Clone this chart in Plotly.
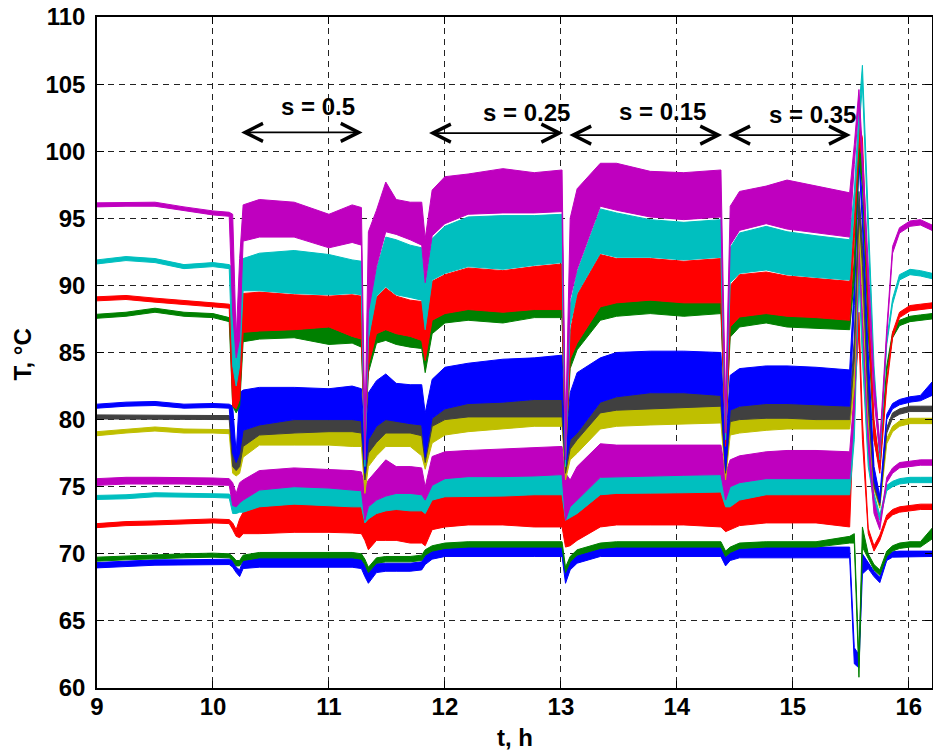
import plotly.graph_objects as go

# ---------------- data ----------------
T = [9.00, 9.25, 9.50, 9.75, 10.00, 10.14, 10.17, 10.20, 10.23, 10.26,
     10.40, 10.70, 11.00, 11.20, 11.28, 11.31, 11.34, 11.41, 11.49, 11.58,
     11.70, 11.80, 11.83, 11.89, 12.00, 12.20, 12.50, 12.77, 13.01, 13.04,
     13.08, 13.14, 13.34, 13.48, 13.77, 14.06, 14.38, 14.42, 14.46, 14.54,
     14.77, 14.95, 15.20, 15.49, 15.53, 15.57, 15.60, 15.65, 15.70, 15.75,
     15.81, 15.86, 15.92, 16.01, 16.10, 16.20]

M96_HI = [96.15, 96.2, 96.2, 95.85, 95.55, 95.45, 95.3, 86.0, 92.0, 96.0,
          96.4, 96.2, 95.3, 96.0, 95.8, 79.0, 94.0, 95.6, 97.7, 96.4,
          96.2, 96.2, 93.5, 97.1, 98.1, 98.3, 98.7, 98.4, 98.6, 79.0,
          95.0, 97.2, 99.1, 99.1, 98.5, 98.4, 98.6, 81.0, 95.9, 97.0,
          97.4, 97.85, 97.4, 96.9, 100.5, 104.6, 100.0, 92.0, 83.0, 78.3,
          86.8, 92.9, 94.3, 94.8, 94.9, 94.5]
M96_LO = [95.85, 95.9, 95.9, 95.55, 95.25, 95.15, 88.0, 84.6, 86.0, 93.3,
          93.6, 93.6, 92.8, 93.2, 93.0, 77.0, 88.0, 91.4, 94.0, 93.8,
          93.4, 93.0, 90.2, 93.7, 94.6, 95.3, 95.4, 95.4, 95.5, 77.0,
          89.0, 91.2, 95.9, 95.6, 95.1, 94.9, 95.1, 79.0, 93.0, 94.1,
          94.6, 94.2, 93.9, 93.6, 99.0, 103.5, 98.5, 90.5, 81.5, 77.5,
          86.2, 92.4, 93.9, 94.4, 94.5, 94.1]

C92_HI = [91.9, 92.15, 92.0, 91.55, 91.7, 91.55, 91.3, 84.0, 90.0, 92.0,
          92.4, 92.6, 92.3, 91.9, 91.8, 78.0, 88.5, 91.2, 93.6, 93.4,
          93.0, 92.8, 90.0, 93.5, 94.4, 95.1, 95.2, 95.2, 95.3, 78.0,
          88.5, 91.0, 95.7, 95.4, 94.9, 94.7, 94.9, 80.0, 92.8, 93.9,
          94.4, 94.0, 93.7, 93.4, 97.0, 103.0, 106.4, 95.0, 84.0, 77.6,
          86.0, 89.0, 90.8, 91.2, 91.1, 90.9]
C92_LO = [91.6, 91.85, 91.7, 91.25, 91.4, 91.25, 84.0, 82.5, 84.0, 89.6,
          89.6, 89.4, 89.3, 89.4, 89.3, 76.5, 86.0, 89.2, 89.9, 89.3,
          89.1, 88.9, 86.7, 90.4, 90.9, 91.4, 91.2, 91.5, 91.7, 76.5,
          87.0, 89.4, 92.4, 92.1, 92.1, 91.9, 92.1, 78.5, 90.2, 90.9,
          91.15, 90.8, 90.6, 90.4, 95.5, 101.5, 105.0, 93.5, 82.5, 77.0,
          85.6, 88.6, 90.4, 90.8, 90.7, 90.5]

R89_HI = [89.15, 89.25, 89.05, 88.85, 88.7, 88.6, 88.4, 82.0, 88.0, 89.4,
          89.5, 89.3, 89.2, 89.3, 89.2, 79.0, 86.0, 89.1, 89.8, 89.2,
          88.9, 88.8, 86.7, 90.3, 90.8, 91.3, 91.1, 91.4, 91.6, 78.5,
          86.5, 89.3, 92.3, 92.0, 92.0, 91.8, 92.0, 79.5, 90.0, 90.8,
          91.0, 90.7, 90.5, 90.3, 95.0, 102.0, 101.0, 89.5, 80.0, 76.6,
          83.0, 86.5, 88.0, 88.5, 88.6, 88.7]
R89_LO = [88.85, 88.95, 88.75, 88.55, 88.4, 88.3, 81.0, 80.8, 81.5, 86.5,
          86.6, 86.7, 86.9, 86.2, 86.0, 77.5, 84.0, 86.4, 86.7, 86.4,
          86.2, 85.9, 84.4, 87.4, 87.9, 88.2, 88.0, 88.2, 88.2, 77.0,
          84.5, 85.7, 88.4, 88.7, 88.9, 88.7, 88.7, 78.0, 86.9, 87.65,
          87.9, 87.7, 87.6, 87.4, 93.5, 100.5, 99.5, 88.0, 78.5, 76.0,
          82.5, 86.1, 87.6, 88.1, 88.2, 88.3]

G88_HI = [87.85, 88.0, 88.3, 88.0, 87.9, 87.6, 87.3, 82.0, 86.5, 86.5,
          86.6, 86.7, 86.9, 86.2, 86.0, 79.5, 84.0, 86.4, 86.7, 86.4,
          86.2, 85.9, 84.4, 87.4, 87.9, 88.2, 88.0, 88.2, 88.2, 79.0,
          84.5, 85.7, 88.4, 88.7, 88.9, 88.7, 88.7, 80.5, 86.9, 87.65,
          87.9, 87.7, 87.6, 87.4, 92.0, 101.0, 99.0, 88.0, 79.5, 76.8,
          84.0, 86.5, 87.4, 87.7, 87.8, 87.9]
G88_LO = [87.55, 87.7, 88.0, 87.7, 87.6, 87.3, 81.0, 80.5, 81.0, 85.8,
          86.0, 86.1, 85.6, 85.7, 85.4, 78.0, 83.5, 85.7, 85.9, 85.6,
          85.4, 85.3, 83.5, 86.4, 87.2, 87.4, 87.2, 87.6, 87.6, 77.5,
          83.8, 85.2, 87.4, 87.7, 87.9, 87.7, 87.9, 79.0, 86.15, 86.9,
          87.2, 86.9, 86.8, 86.7, 90.5, 99.5, 97.5, 86.5, 78.5, 76.3,
          83.6, 86.1, 87.0, 87.3, 87.4, 87.5]

B81_HI = [81.15, 81.3, 81.35, 81.15, 81.2, 81.15, 81.0, 77.5, 82.0, 82.2,
          82.4, 82.4, 82.3, 82.5, 82.3, 78.0, 82.0, 82.9, 83.4, 82.7,
          82.6, 82.6, 80.5, 83.0, 83.9, 84.2, 84.5, 84.6, 84.8, 78.0,
          82.0, 83.5, 84.6, 85.0, 85.1, 85.1, 85.0, 78.0, 83.3, 83.8,
          84.0, 84.0, 83.9, 83.7, 90.0, 100.8, 96.0, 85.0, 76.5, 74.3,
          80.4, 81.2, 81.5, 81.7, 81.8, 82.8]
B81_LO = [80.85, 81.0, 81.05, 80.85, 80.9, 80.85, 77.5, 76.8, 77.5, 79.2,
          79.6, 80.0, 80.0, 80.0, 79.9, 76.0, 78.5, 79.5, 80.0, 79.9,
          79.7, 79.6, 77.2, 80.1, 80.8, 81.2, 81.3, 81.5, 81.5, 76.5,
          78.5, 79.0, 81.3, 81.7, 82.0, 82.0, 81.8, 76.2, 80.7, 81.0,
          81.2, 81.2, 81.1, 81.0, 88.5, 99.3, 94.5, 83.0, 75.5, 73.8,
          80.0, 80.8, 81.1, 81.3, 81.4, 81.8]

K80_HI = [80.35, 80.35, 80.3, 80.3, 80.3, 80.3, 80.0, 77.0, 79.0, 79.2,
          79.6, 80.0, 80.0, 80.0, 79.9, 77.0, 78.5, 79.5, 80.0, 79.9,
          79.7, 79.6, 77.2, 80.1, 80.8, 81.2, 81.3, 81.5, 81.5, 77.5,
          78.5, 79.0, 81.3, 81.7, 82.0, 82.0, 81.8, 77.5, 80.7, 81.0,
          81.2, 81.2, 81.1, 81.0, 86.0, 97.0, 93.0, 83.0, 75.8, 74.0,
          79.4, 80.5, 80.8, 81.0, 81.0, 81.0]
K80_LO = [80.05, 80.05, 80.0, 80.0, 80.0, 80.0, 76.5, 76.2, 76.5, 78.0,
          78.85, 79.0, 79.1, 79.1, 79.0, 75.5, 77.5, 78.3, 79.0, 79.0,
          79.0, 78.8, 76.8, 79.5, 80.0, 80.2, 80.2, 80.2, 80.2, 76.0,
          77.8, 78.5, 80.5, 80.7, 80.8, 80.9, 81.0, 76.0, 79.85, 80.0,
          80.1, 80.1, 80.0, 80.0, 84.5, 95.5, 91.5, 81.0, 75.0, 73.6,
          79.0, 80.1, 80.4, 80.6, 80.6, 80.6]

Y79_HI = [79.1, 79.3, 79.45, 79.3, 79.3, 79.25, 79.0, 76.5, 78.5, 78.0,
          78.85, 79.0, 79.1, 79.1, 79.0, 75.5, 77.5, 78.3, 79.0, 79.0,
          79.0, 78.8, 76.8, 79.5, 80.0, 80.2, 80.2, 80.2, 80.2, 76.0,
          77.8, 78.5, 80.5, 80.7, 80.8, 80.9, 81.0, 76.0, 79.85, 80.0,
          80.1, 80.1, 80.0, 80.0, 84.0, 96.0, 91.0, 82.0, 75.5, 73.9,
          78.6, 79.5, 79.9, 80.1, 80.1, 80.1]
Y79_LO = [78.8, 79.0, 79.15, 79.0, 79.0, 78.95, 76.0, 75.8, 76.0, 77.2,
          78.1, 78.1, 78.1, 78.0, 78.0, 74.5, 76.5, 77.3, 78.0, 78.0,
          78.0, 77.3, 76.3, 78.25, 78.85, 79.1, 79.3, 79.5, 79.5, 75.5,
          77.0, 77.5, 79.3, 79.5, 79.6, 79.7, 79.75, 75.5, 78.85, 79.0,
          79.2, 79.3, 79.3, 79.3, 82.5, 94.5, 89.5, 80.0, 74.8, 73.4,
          78.2, 79.1, 79.5, 79.7, 79.7, 79.7]

M75_HI = [75.6, 75.7, 75.7, 75.7, 75.65, 75.6, 75.3, 74.5, 75.3, 75.5,
          76.2, 76.4, 76.3, 76.2, 76.1, 75.0, 75.5, 76.2, 77.0, 76.5,
          76.5, 76.4, 75.0, 77.25, 77.6, 77.7, 77.8, 77.9, 78.0, 76.0,
          75.5, 76.5, 78.2, 78.1, 78.1, 78.1, 78.1, 76.0, 77.0, 77.3,
          77.6, 77.7, 77.7, 77.6, 82.0, 94.0, 88.0, 80.0, 74.0, 72.2,
          75.7, 76.4, 76.8, 76.9, 77.0, 77.0]
M75_LO = [75.1, 75.2, 75.2, 75.2, 75.15, 75.1, 73.6, 73.5, 73.8, 74.0,
          74.75, 75.0, 74.9, 74.75, 74.7, 72.5, 73.5, 74.0, 74.3, 74.5,
          74.5, 74.4, 74.0, 75.1, 75.6, 75.75, 75.75, 75.8, 75.9, 72.5,
          73.5, 74.0, 75.7, 75.75, 75.8, 75.85, 75.9, 74.0, 75.0, 75.3,
          75.6, 75.6, 75.6, 75.6, 80.5, 92.5, 86.5, 78.0, 73.0, 71.8,
          75.3, 76.0, 76.4, 76.5, 76.6, 76.6]

C74_HI = [74.35, 74.4, 74.55, 74.5, 74.5, 74.45, 74.2, 73.6, 74.0, 74.0,
          74.75, 75.0, 74.9, 74.75, 74.7, 73.0, 73.5, 74.0, 74.3, 74.5,
          74.5, 74.4, 74.0, 75.1, 75.6, 75.75, 75.75, 75.8, 75.9, 74.0,
          73.5, 74.0, 75.7, 75.75, 75.8, 75.85, 75.9, 74.0, 75.0, 75.3,
          75.6, 75.6, 75.6, 75.6, 80.0, 92.0, 86.0, 78.0, 74.5, 72.9,
          75.1, 75.4, 75.6, 75.7, 75.7, 75.7]
C74_LO = [74.05, 74.1, 74.25, 74.2, 74.2, 74.15, 73.0, 73.0, 73.1, 73.1,
          73.5, 73.7, 73.6, 73.5, 73.5, 72.3, 72.6, 73.0, 73.2, 73.3,
          73.2, 73.2, 73.0, 74.0, 74.25, 74.3, 74.3, 74.4, 74.4, 72.5,
          72.7, 73.0, 74.4, 74.5, 74.5, 74.55, 74.6, 73.5, 73.5, 74.0,
          74.4, 74.4, 74.4, 74.4, 78.5, 90.5, 84.5, 76.5, 73.8, 72.5,
          74.7, 75.0, 75.2, 75.3, 75.3, 75.3]

R72_HI = [72.25, 72.4, 72.45, 72.5, 72.6, 72.55, 72.3, 71.8, 72.6, 73.1,
          73.5, 73.7, 73.6, 73.5, 73.5, 72.3, 72.6, 73.0, 73.2, 73.3,
          73.2, 73.2, 73.0, 74.0, 74.25, 74.3, 74.3, 74.4, 74.4, 72.5,
          72.7, 73.0, 74.4, 74.5, 74.5, 74.55, 74.6, 73.5, 73.5, 74.0,
          74.4, 74.4, 74.4, 74.4, 83.0, 88.0, 80.0, 71.9, 70.6, 71.4,
          72.9, 73.3, 73.5, 73.6, 73.7, 73.7]
R72_LO = [71.95, 72.1, 72.15, 72.2, 72.3, 72.25, 71.8, 71.3, 71.2, 71.5,
          71.5, 71.6, 71.6, 71.55, 71.5, 71.0, 70.3, 71.0, 71.0, 71.0,
          70.8, 70.8, 70.6, 71.8, 72.0, 72.15, 72.15, 72.0, 72.0, 70.5,
          70.6, 71.0, 72.0, 72.15, 72.15, 72.15, 72.0, 71.65, 71.8, 72.1,
          72.3, 72.3, 72.3, 72.0, 81.5, 86.5, 78.5, 71.5, 70.2, 71.0,
          72.5, 72.9, 73.1, 73.2, 73.3, 73.3]

G70_HI = [69.75, 69.85, 69.95, 70.0, 70.05, 70.0, 69.8, 69.5, 69.5, 69.9,
          70.1, 70.1, 70.1, 70.1, 70.0, 69.6, 69.0, 69.7, 69.8, 69.8,
          69.8, 69.9, 70.3, 70.6, 70.8, 70.9, 70.9, 70.9, 70.9, 69.0,
          69.8, 70.3, 70.8, 70.9, 70.9, 70.9, 70.9, 70.2, 70.5, 70.8,
          70.9, 70.9, 70.9, 71.3, 71.5, 62.0, 72.0, 70.0, 69.2, 68.8,
          70.2, 70.6, 70.8, 70.9, 70.9, 71.9]
G70_LO = [69.45, 69.55, 69.65, 69.7, 69.75, 69.7, 69.5, 69.1, 69.1, 69.5,
          69.7, 69.7, 69.7, 69.7, 69.6, 69.2, 68.6, 69.3, 69.4, 69.4,
          69.4, 69.5, 69.9, 70.2, 70.4, 70.5, 70.5, 70.5, 70.5, 68.6,
          69.4, 69.9, 70.4, 70.5, 70.5, 70.5, 70.5, 69.8, 70.1, 70.4,
          70.5, 70.5, 70.5, 70.8, 70.8, 60.8, 70.5, 69.6, 68.8, 68.4,
          69.8, 70.2, 70.4, 70.5, 70.5, 71.1]

B69_HI = [69.35, 69.45, 69.55, 69.55, 69.6, 69.6, 69.5, 69.0, 68.8, 69.5,
          69.7, 69.7, 69.7, 69.7, 69.6, 69.2, 68.6, 69.3, 69.3, 69.3,
          69.3, 69.4, 69.9, 70.2, 70.4, 70.5, 70.5, 70.5, 70.5, 68.6,
          69.4, 69.9, 70.4, 70.5, 70.5, 70.5, 70.5, 69.8, 70.1, 70.4,
          70.5, 70.5, 70.5, 70.5, 63.0, 62.5, 70.0, 69.3, 68.7, 68.25,
          69.9, 70.15, 70.2, 70.2, 70.2, 70.2]
B69_LO = [68.95, 69.05, 69.15, 69.15, 69.2, 69.2, 69.0, 68.6, 68.3, 68.9,
          69.0, 69.0, 69.0, 69.0, 68.9, 68.3, 67.8, 68.6, 68.7, 68.7,
          68.7, 68.8, 69.2, 69.6, 69.8, 69.8, 69.8, 69.8, 69.8, 67.8,
          68.8, 69.3, 69.8, 69.8, 69.8, 69.8, 69.8, 69.1, 69.5, 69.7,
          69.7, 69.7, 69.7, 69.7, 61.8, 61.5, 68.5, 68.9, 68.3, 67.85,
          69.5, 69.75, 69.8, 69.8, 69.8, 69.8]

SERIES = [  # (name, upper envelope, lower envelope, colour)
    ("B69", B69_HI, B69_LO, "#0000FF"),
    ("G70", G70_HI, G70_LO, "#008000"),
    ("R72", R72_HI, R72_LO, "#FF0000"),
    ("C74", C74_HI, C74_LO, "#00BFBF"),
    ("M75", M75_HI, M75_LO, "#BF00BF"),
    ("Y79", Y79_HI, Y79_LO, "#BFBF00"),
    ("K80", K80_HI, K80_LO, "#404040"),
    ("B81", B81_HI, B81_LO, "#0000FF"),
    ("G88", G88_HI, G88_LO, "#008000"),
    ("R89", R89_HI, R89_LO, "#FF0000"),
    ("C92", C92_HI, C92_LO, "#00BFBF"),
    ("M96", M96_HI, M96_LO, "#BF00BF"),
]

LABELS = ["s = 0.5", "s = 0.25", "s = 0.15", "s = 0.35"]
LABEL_T = [10.905, 12.70, 13.88, 15.17]
LABEL_Y = [103.3, 102.9, 102.95, 102.7]
ARROW_START = [10.23, 11.85, 13.06, 14.43]
ARROW_END = [11.29, 13.02, 14.39, 15.50]
ARROW_Y = [101.4, 101.35, 101.2, 101.2]

X_TICKS = [9, 10, 11, 12, 13, 14, 15, 16]
Y_TICKS = [60, 65, 70, 75, 80, 85, 90, 95, 100, 105, 110]
X_TITLE = "t, h"
Y_TITLE = "T, °C"

# ---------------- figure ----------------
FONT = "Liberation Sans, Arial, Helvetica, sans-serif"
FS = 24
fig = go.Figure()
for name, hi, lo, col in SERIES:
    fig.add_trace(go.Scatter(
        x=T + T[::-1], y=hi + lo[::-1], mode="lines", fill="toself",
        fillcolor=col, line=dict(color=col, width=1.0), name=name,
        hoverinfo="skip", showlegend=False))

for x0, x1, ya in zip(ARROW_START, ARROW_END, ARROW_Y):
    fig.add_annotation(x=x1, y=ya, ax=x0, ay=ya, xref="x", yref="y",
                       axref="x", ayref="y", text="", showarrow=True,
                       arrowhead=5, startarrowhead=5, arrowside="end+start",
                       arrowsize=2.2, startarrowsize=2.2, arrowwidth=1.6,
                       arrowcolor="black", standoff=0, startstandoff=0)
for txt, xt, yt in zip(LABELS, LABEL_T, LABEL_Y):
    fig.add_annotation(x=xt, y=yt, xref="x", yref="y", text=txt,
                       showarrow=False, xanchor="center", yanchor="middle",
                       font=dict(family=FONT, size=FS, color="black",
                                 weight="bold"))

fig.add_annotation(x=-0.0898, y=0.497, xref="paper", yref="paper",
                   text=Y_TITLE, textangle=-90, showarrow=False,
                   xanchor="center", yanchor="middle",
                   font=dict(family=FONT, size=FS, color="black", weight="bold"))
fig.add_annotation(x=0.5, y=-0.0745, xref="paper", yref="paper",
                   text=X_TITLE, showarrow=False,
                   xanchor="center", yanchor="middle",
                   font=dict(family=FONT, size=FS, color="black", weight="bold"))

axis_common = dict(ticks="inside", ticklen=7, tickwidth=1, tickcolor="black",
                   showline=True, linecolor="black", linewidth=1.5,
                   mirror="ticks", showgrid=True, gridcolor="#222222",
                   griddash="6px,5px", gridwidth=1, zeroline=False,
                   automargin=False,
                   tickfont=dict(family=FONT, size=FS, color="black",
                                 weight="bold"))
fig.update_xaxes(range=[9, 16.2], tickvals=X_TICKS, ticklabelstandoff=-4,
                 **axis_common)
fig.update_yaxes(range=[60, 110], tickvals=Y_TICKS, ticklabelstandoff=5,
                 **axis_common)

fig.update_layout(width=933, height=753, plot_bgcolor="white",
                  paper_bgcolor="white",
                  margin=dict(l=97, r=1, t=17, b=65, pad=0, autoexpand=False))

fig.write_html("out.html", config={"displayModeBar": False},
               post_script="document.body.style.margin='0';"
                           "document.body.style.overflow='hidden';")
